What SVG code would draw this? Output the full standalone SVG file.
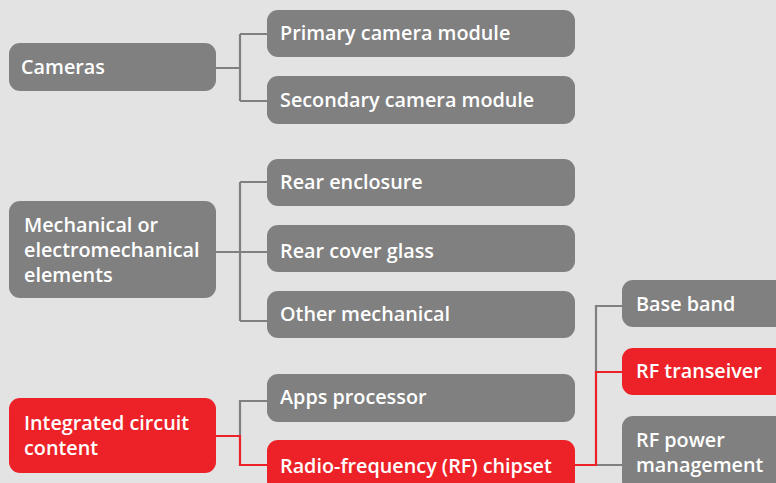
<svg xmlns="http://www.w3.org/2000/svg" width="776" height="483" viewBox="0 0 776 483">
<style>
.g{fill:#808080}
.r{fill:#ED2228}
text{font-family:"Open Sans","Noto Sans",sans-serif;font-weight:600;font-size:19.8px;fill:#fff}
.cg{fill:none;stroke:#808080;stroke-width:2.2}
.cr{fill:none;stroke:#ED2228;stroke-width:2.2}
</style>
<rect width="776" height="483" fill="#E3E3E3"/>
<g id="connectors">
<path class="cg" d="M216 68H240M240 34V101M240 34H267M240 101H267"/>
<path class="cg" d="M216 252H267M240 182V321M240 182H267M240 321H267"/>
<path class="cg" d="M267 401H240V436"/>
<path class="cr" d="M216 436H240V465H267"/>
<path class="cg" d="M596 372V306H622M596 465H622"/>
<path class="cr" d="M575 465H596V372H622"/>
</g>
<g id="cameras"><rect class="g" x="9" y="43" width="207" height="48" rx="11"/><text x="21" y="74">Cameras</text></g>
<g id="primary"><rect class="g" x="267" y="10" width="308" height="47" rx="11"/><text x="280" y="40">Primary camera module</text></g>
<g id="secondary"><rect class="g" x="267" y="76" width="308" height="48" rx="11"/><text x="280" y="107">Secondary camera module</text></g>
<g id="mechanical"><rect class="g" x="9" y="201" width="207" height="97" rx="11"/><text x="24" y="232">Mechanical or</text><text x="24" y="257">electromechanical</text><text x="24" y="282">elements</text></g>
<g id="rear-enclosure"><rect class="g" x="267" y="159" width="308" height="47" rx="11"/><text x="280" y="189">Rear enclosure</text></g>
<g id="rear-cover"><rect class="g" x="267" y="225" width="308" height="47" rx="11"/><text x="280" y="258">Rear cover glass</text></g>
<g id="other-mech"><rect class="g" x="267" y="291" width="308" height="47" rx="11"/><text x="280" y="321">Other mechanical</text></g>
<g id="ic"><rect class="r" x="9" y="398" width="207" height="75" rx="11"/><text x="24" y="430">Integrated circuit</text><text x="24" y="455">content</text></g>
<g id="apps"><rect class="g" x="267" y="374" width="308" height="48" rx="11"/><text x="280" y="404">Apps processor</text></g>
<g id="rf-chipset"><rect class="r" x="267" y="440" width="308" height="52" rx="11"/><text x="280" y="473">Radio-frequency (RF) chipset</text></g>
<g id="baseband"><rect class="g" x="622" y="280" width="170" height="47" rx="11"/><text x="636" y="311">Base band</text></g>
<g id="rf-transeiver"><rect class="r" x="622" y="348" width="170" height="47" rx="11"/><text x="636" y="378">RF transeiver</text></g>
<g id="rf-power"><rect class="g" x="622" y="416" width="170" height="76" rx="11"/><text x="636" y="447">RF power</text><text x="636" y="472">management</text></g>
</svg>
